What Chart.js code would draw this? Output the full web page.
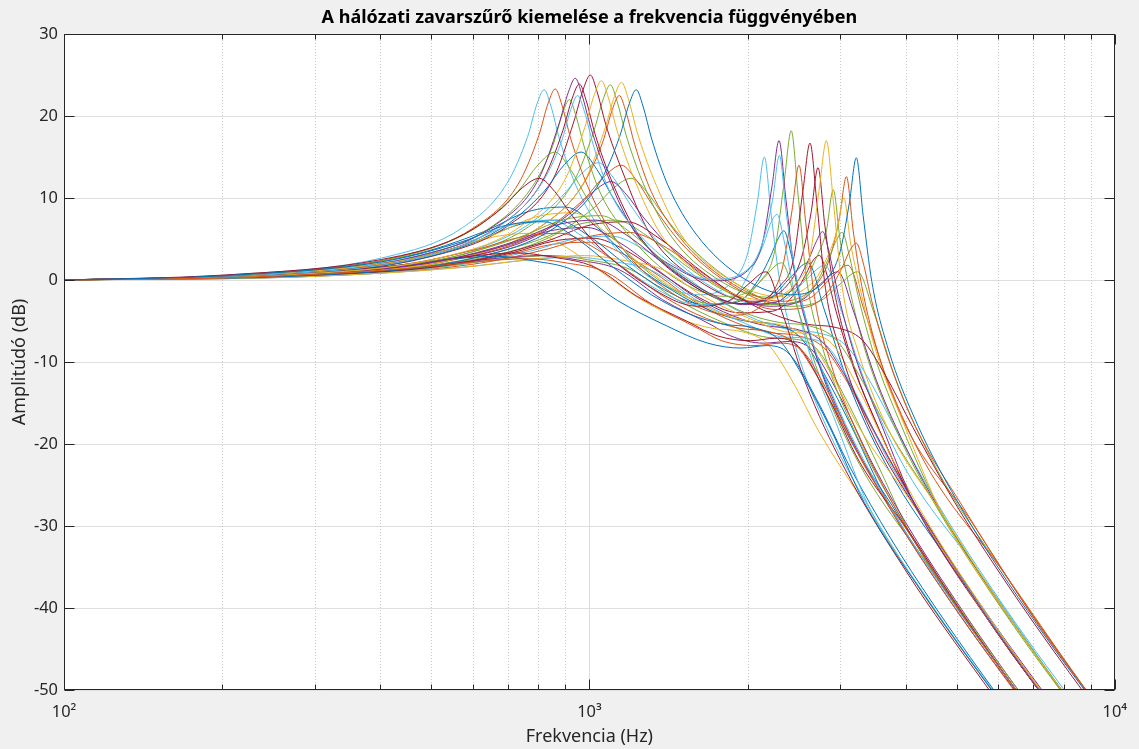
<!DOCTYPE html>
<html>
<head>
<meta charset="utf-8">
<script src="https://cdn.jsdelivr.net/npm/chart.js@4.4.1/dist/chart.umd.min.js"></script>
<style>
html,body{margin:0;padding:0;background:#f0f0f0;overflow:hidden;}
canvas{display:block;}
</style>
</head>
<body>
<canvas id="c" width="1139" height="749"></canvas>
<script>
// ---- Tick labels / axis values ----
const xTickValues = [100,200,300,400,500,600,700,800,900,1000,2000,3000,4000,5000,6000,7000,8000,9000,10000];
const xTickLabels = {100:'10\u00B2', 1000:'10\u00B3', 10000:'10\u2074'};
const yTickValues = [-50,-40,-30,-20,-10,0,10,20,30];

const titleText = 'A hálózati zavarszűrő kiemelése a frekvencia függvényében';
const xTitle = 'Frekvencia (Hz)';
const yTitle = 'Amplitúdó (dB)';

const COLORS = {blue:'#0072BD', orange:'#D95319', yellow:'#EDB120', purple:'#7E2F8E', green:'#77AC30', cyan:'#4DBEEE', crimson:'#A2142F'};

// ---- Curves: [frequency Hz, amplitude dB] ----
const cA1 = [[100,0],[205,0.6],[410,2.8],[574,6.4],[697,11.8],[763,17.5],[795,21.5],[820,23.2],[845,21.2],[877,17.2],[943,11.5],[1066,5.6],[1312,0.2],[1615,-1.8],[1895,0.2],[2002,3.3],[2088,9.5],[2153,15.0],[2218,8.0],[2304,-0.2],[2476,-8.4],[2799,-17.3],[3445,-28.3],[4737,-41.9],[6459,-53.7]];
const cA2 = [[100,0],[215,0.6],[431,2.8],[603,6.4],[732,11.7],[801,17.6],[835,21.6],[861,23.3],[887,21.3],[921,17.3],[990,11.6],[1119,5.1],[1378,-0.8],[1880,-4.3],[2205,-2.0],[2331,1.5],[2431,8.5],[2506,14.0],[2581,7.0],[2681,-2.0],[2882,-10.2],[3258,-19.1],[4010,-30.1],[5513,-43.7],[7518,-55.5]];
const cA3 = [[100,0],[229,0.6],[458,2.7],[641,6.2],[779,11.4],[852,16.4],[889,20.3],[916,22.0],[943,20.0],[980,16.0],[1053,10.4],[1191,5.4],[1466,0.1],[1817,-2.0],[2131,0.1],[2252,3.5],[2349,12.0],[2422,18.2],[2495,10.5],[2592,0.0],[2785,-8.5],[3149,-17.5],[3875,-28.5],[5328,-42.0],[7266,-54.0]];
const cA4 = [[100,0],[235,0.6],[470,2.9],[658,6.6],[799,12.2],[874,18.9],[912,22.9],[940,24.6],[968,22.6],[1006,18.6],[1081,12.9],[1222,5.8],[1504,1.0],[1722,-0.1],[2020,1.4],[2135,4.5],[2227,11.5],[2296,17.0],[2365,10.0],[2457,1.0],[2640,-7.2],[2985,-16.1],[3674,-27.1],[5051,-40.7],[6888,-52.5]];
const cA5 = [[100,0],[239,0.6],[479,2.8],[670,6.5],[813,12.0],[890,18.2],[928,22.2],[957,23.9],[986,21.9],[1024,17.9],[1101,12.2],[1244,5.4],[1531,-0.2],[1973,-2.9],[2314,-0.6],[2446,2.5],[2551,11.0],[2630,16.7],[2709,9.5],[2814,-1.0],[3025,-9.2],[3419,-18.1],[4305,-29.1],[5920,-42.7],[8070,-54.5]];
const cA6 = [[100,0],[251,0.6],[502,2.9],[703,6.7],[853,12.3],[934,19.3],[974,23.3],[1004,25.0],[1034,23.0],[1074,19.0],[1155,13.3],[1305,5.6],[1606,0.0],[2043,-2.6],[2397,-0.4],[2533,2.7],[2642,8.2],[2724,13.7],[2806,6.7],[2915,-0.8],[3133,-9.0],[3541,-17.9],[4284,-28.9],[5891,-42.5],[8033,-54.3]];
const cA7 = [[100,0],[264,0.6],[527,2.8],[738,6.5],[896,12.1],[980,18.6],[1022,22.6],[1054,24.3],[1086,22.3],[1128,18.3],[1212,12.6],[1370,5.5],[1686,0.0],[2120,-2.4],[2487,-0.2],[2628,2.9],[2741,11.3],[2826,17.0],[2911,9.8],[3024,-0.6],[3250,-8.8],[3674,-17.7],[4712,-28.7],[6478,-42.3],[8834,-54.1]];
const cA8 = [[100,0],[274,0.6],[548,2.8],[767,6.5],[932,11.9],[1019,18.1],[1063,22.1],[1096,23.8],[1129,21.8],[1173,17.8],[1260,12.1],[1425,5.5],[1754,0.1],[2184,-2.1],[2563,0.0],[2708,2.8],[2825,6.0],[2912,11.0],[2999,5.0],[3116,-0.6],[3349,-8.6],[3786,-17.5],[4659,-28.5],[6406,-42.1],[8736,-53.9]];
const cA9 = [[100,0],[288,0.6],[576,2.8],[806,6.5],[978,12.0],[1070,18.4],[1116,22.4],[1151,24.1],[1186,22.1],[1232,18.1],[1324,12.4],[1496,5.5],[1842,0.1],[2288,-2.0],[2684,0.0],[2837,2.8],[2959,6.0],[3050,10.0],[3142,4.5],[3264,-0.6],[3508,-8.6],[3965,-17.5],[4690,-28.5],[6448,-42.1],[8793,-53.9]];
const cA10 = [[100,0],[285,0.6],[570,2.7],[798,6.3],[969,11.5],[1060,16.8],[1106,20.8],[1140,22.5],[1174,20.5],[1220,16.5],[1311,10.8],[1482,5.3],[1824,0.0],[2314,-2.6],[2715,-0.4],[2869,2.7],[2992,7.6],[3085,12.6],[3178,6.0],[3301,-0.8],[3548,-9.0],[4011,-17.9],[5262,-28.9],[7235,-42.5],[9866,-54.3]];
const cA11 = [[100,0],[307,0.6],[614,2.8],[860,6.4],[1044,11.8],[1142,17.5],[1191,21.5],[1228,23.2],[1265,21.2],[1314,17.2],[1412,11.5],[1596,5.6],[1965,0.2],[2417,-1.8],[2835,0.2],[2996,3.3],[3125,9.4],[3222,14.9],[3319,7.9],[3448,-0.2],[3705,-8.4],[4189,-17.3],[5155,-28.3],[7088,-41.9],[9666,-53.7]];
const cA12 = [[100,0],[238,0.6],[475,2.7],[665,6.3],[808,11.6],[884,16.8],[922,20.8],[950,22.5],[979,20.5],[1017,16.5],[1093,10.8],[1235,5.8],[1520,1.0],[1725,0.1],[2024,1.6],[2139,4.7],[2231,9.7],[2300,15.2],[2369,8.2],[2461,1.2],[2645,-7.0],[2990,-15.9],[3680,-26.9],[5060,-40.5],[6900,-52.3]];

const cB1 = [[100,0],[201,0.6],[402,2.5],[562,5.2],[683,8.8],[747,11.3],[803,12.4],[859,10.8],[923,8.0],[1044,4.0],[1285,-0.6],[1606,-3.2],[1847,-2.5],[2008,-0.5],[2168,1.0],[2329,-4.0],[2570,-12.3],[3051,-22.8],[4015,-35.6],[5621,-49.0],[6826,-56.3]];
const cB2 = [[100,0],[215,0.6],[430,2.7],[602,6.2],[731,10.8],[800,14.1],[860,15.6],[920,13.5],[989,10.0],[1118,5.0],[1376,-0.3],[1720,-2.9],[1978,-2.1],[2150,0.3],[2322,2.1],[2494,-3.6],[2752,-12.0],[3268,-22.5],[4490,-35.4],[6285,-48.8],[7632,-56.1]];
const cB3 = [[100,0],[241,0.6],[483,2.7],[676,6.2],[820,10.8],[897,14.1],[965,15.6],[1033,13.5],[1110,10.0],[1255,5.0],[1544,-0.3],[1930,-2.9],[2220,-2.1],[2413,0.3],[2606,2.1],[2799,-3.6],[3088,-12.0],[3667,-22.5],[4970,-35.4],[6958,-48.8],[8449,-56.1]];
const cB4 = [[100,0],[260,0.6],[520,2.7],[728,5.9],[884,10.1],[967,13.0],[1040,14.3],[1113,12.4],[1196,9.2],[1352,4.6],[1664,-0.4],[2080,-2.9],[2392,-2.1],[2600,0.2],[2808,1.8],[3016,-3.7],[3328,-12.0],[3952,-22.5],[5491,-35.4],[7688,-48.8],[9335,-56.1]];
const cB5 = [[100,0],[288,0.6],[575,2.7],[805,5.8],[978,9.9],[1070,12.7],[1150,14.0],[1231,12.1],[1323,9.0],[1495,4.5],[1840,-0.4],[2300,-2.9],[2645,-2.1],[2875,0.2],[3105,1.8],[3335,-3.7],[3680,-12.0],[4370,-22.5],[6107,-35.4],[8549,-48.8],[10381,-56.1]];
const cB6 = [[100,0],[275,0.6],[550,2.5],[770,5.0],[935,8.5],[1023,10.9],[1100,12.0],[1177,10.4],[1265,7.7],[1430,3.9],[1760,-0.7],[2200,-3.2],[2530,-2.5],[2750,-0.5],[2970,1.0],[3190,-4.0],[3520,-12.3],[4180,-22.8],[5500,-35.6],[7700,-49.0],[9350,-56.3]];
const cB7 = [[100,0],[300,0.6],[600,2.5],[840,5.2],[1020,8.8],[1116,11.3],[1200,12.4],[1284,10.8],[1380,8.0],[1560,4.0],[1920,-0.6],[2400,-3.2],[2760,-2.5],[3000,-0.5],[3240,1.0],[3480,-4.0],[3840,-12.3],[4560,-22.8],[6132,-35.6],[8585,-49.0],[10424,-56.3]];

const cM1 = [[100,0],[205,0.55],[410,2.3],[574,4.7],[697,6.7],[820,7.1],[943,5.1],[1107,1.6],[1312,-1.8],[1558,-4.2],[1804,-5.4],[2050,-5.8],[2296,-7.3],[2542,-11.6],[2870,-18.0],[3334,-27.1],[4366,-38.7],[5953,-50.8],[7144,-57.5]];
const cM2 = [[100,0],[220,0.45],[440,1.85],[616,3.8],[748,5.3],[880,5.7],[1012,4.1],[1188,1.0],[1408,-2.3],[1672,-4.7],[1936,-5.9],[2200,-6.3],[2464,-7.8],[2728,-12.0],[3080,-18.4],[3696,-27.4],[4840,-39.0],[6600,-51.0],[7920,-57.7]];
const cM3 = [[100,0],[233,0.63],[465,2.65],[651,5.4],[791,7.7],[930,8.2],[1070,5.9],[1256,1.8],[1488,-1.5],[1767,-4.0],[2046,-5.1],[2325,-5.5],[2604,-7.1],[2883,-11.4],[3255,-17.9],[4082,-26.9],[5345,-38.5],[7289,-50.6],[8747,-57.3]];
const cM4 = [[100,0],[248,0.5],[495,2.1],[693,4.2],[842,6.0],[990,6.4],[1139,4.6],[1337,1.4],[1584,-2.0],[1881,-4.4],[2178,-5.6],[2475,-6.0],[2772,-7.5],[3069,-11.7],[3465,-18.1],[4158,-27.2],[5445,-38.8],[7425,-50.8],[8910,-57.5]];
const cM5 = [[100,0],[263,0.6],[525,2.55],[735,5.2],[893,7.35],[1050,7.85],[1208,5.6],[1418,1.7],[1680,-1.6],[1995,-4.1],[2310,-5.2],[2625,-5.6],[2940,-7.2],[3255,-11.5],[3675,-17.9],[4520,-27.0],[5919,-38.6],[8072,-50.7],[9686,-57.4]];
const cM6 = [[100,0],[275,0.4],[550,1.75],[770,3.5],[935,5.0],[1100,5.35],[1265,3.8],[1485,0.9],[1760,-2.4],[2090,-4.9],[2420,-6.1],[2750,-6.5],[3080,-8.0],[3410,-12.2],[3850,-18.5],[4620,-27.5],[6050,-39.1],[8250,-51.1],[9900,-57.8]];
const cM7 = [[100,0],[295,0.55],[590,2.3],[826,4.7],[1003,6.7],[1180,7.1],[1357,5.1],[1593,1.6],[1888,-1.8],[2242,-4.2],[2596,-5.4],[2950,-5.8],[3304,-7.3],[3658,-11.6],[4130,-18.0],[4956,-27.1],[6490,-38.7],[8850,-50.8],[10620,-57.5]];
const cM8 = [[100,0],[225,0.7],[450,2.9],[630,5.9],[765,8.35],[900,8.9],[1035,6.4],[1215,2.0],[1440,-1.3],[1710,-3.8],[1980,-5.0],[2250,-5.4],[2520,-7.0],[2790,-11.3],[3150,-17.8],[3678,-26.8],[4816,-38.4],[6568,-50.5],[7881,-57.2]];
const cM9 = [[100,0],[250,0.36],[500,1.5],[700,3.05],[850,4.35],[1000,4.6],[1150,3.3],[1350,0.6],[1600,-2.8],[1900,-5.2],[2200,-6.4],[2500,-6.8],[2800,-8.3],[3100,-12.5],[3500,-18.8],[4200,-27.8],[5500,-39.4],[7500,-51.4],[9000,-58.0]];
const cM10 = [[100,0],[195,0.45],[390,1.85],[546,3.8],[663,5.3],[780,5.7],[897,4.1],[1053,1.0],[1248,-2.3],[1482,-4.7],[1716,-5.9],[1950,-6.3],[2184,-7.8],[2418,-12.0],[2730,-18.4],[3351,-27.4],[4389,-39.0],[5985,-51.0],[7181,-57.7]];

const cS1 = [[100,0],[211,0.55],[422,2.3],[590,4.7],[717,6.8],[843,7.3],[969,5.35],[1138,1.9],[1349,-1.2],[1602,-3.0],[1855,-2.5],[2023,1.0],[2150,4.5],[2209,6.8],[2276,8.0],[2344,5.0],[2436,-0.5],[2613,-8.5],[2951,-17.5],[3385,-27.3],[4433,-39.2],[6045,-51.3],[7253,-58.0]];
const cS2 = [[100,0],[281,0.55],[561,2.3],[785,4.7],[954,6.8],[1122,7.3],[1290,5.35],[1515,1.9],[1795,-1.2],[2132,-3.0],[2468,-2.7],[2693,-0.5],[2861,2.8],[2940,4.6],[3029,5.8],[3119,3.2],[3243,-1.8],[3478,-9.0],[3927,-17.8],[4604,-27.5],[6029,-39.3],[8221,-51.4],[9866,-58.0]];
const cS3 = [[100,0],[298,0.45],[597,1.9],[835,3.8],[1014,5.4],[1193,5.8],[1372,4.3],[1611,1.2],[1909,-1.9],[2267,-3.6],[2625,-3.2],[2863,-1.2],[3042,1.8],[3126,3.5],[3221,4.5],[3317,2.2],[3448,-2.6],[3698,-9.4],[4176,-17.9],[5121,-27.5],[6706,-39.3],[9145,-51.4],[10973,-58.0]];
const cS4 = [[100,0],[258,0.55],[515,2.3],[721,4.7],[876,6.8],[1030,7.3],[1185,5.35],[1391,1.9],[1648,-1.2],[1957,-3.0],[2266,-2.7],[2472,-0.5],[2627,2.8],[2699,4.6],[2781,5.9],[2863,3.2],[2977,-1.8],[3193,-9.0],[3605,-17.8],[4170,-27.5],[5461,-39.3],[7447,-51.4],[8936,-58.0]];
const cS5 = [[100,0],[254,0.4],[508,1.6],[711,3.3],[863,4.8],[1015,5.1],[1167,3.7],[1370,0.8],[1624,-2.2],[1929,-4.0],[2233,-3.8],[2436,-2.0],[2588,0.8],[2659,2.3],[2741,3.0],[2822,1.0],[2933,-3.3],[3147,-9.8],[3553,-18.1],[4178,-27.6],[5471,-39.4],[7461,-51.5],[8952,-58.0]];
const cS6 = [[100,0],[217,0.55],[435,2.3],[608,4.7],[739,6.8],[869,7.3],[999,5.35],[1173,1.9],[1390,-1.2],[1651,-3.0],[1912,-2.7],[2086,-0.2],[2216,3.0],[2277,4.8],[2346,6.0],[2416,3.4],[2511,-1.6],[2694,-9.0],[3042,-17.8],[3767,-27.5],[4933,-39.3],[6727,-51.4],[8071,-58.0]];

const cL1 = [[100,0],[195,0.4],[390,1.5],[546,2.55],[663,2.9],[780,2.35],[936,1.15],[1131,-2.5],[1404,-5.6],[1680,-7.7],[1944,-8.3],[2174,-8.0],[2400,-9.0],[2700,-14.4],[3144,-23.0],[3744,-31.5],[4500,-39.4],[5616,-48.2],[6744,-55.1]];
const cL2 = [[100,0],[225,0.35],[450,1.4],[630,2.3],[765,2.6],[900,2.1],[1080,0.9],[1305,-2.8],[1620,-6.0],[1785,-7.4],[2066,-8.0],[2310,-7.7],[2550,-8.7],[2869,-14.1],[3341,-22.7],[4089,-31.2],[4915,-39.1],[6134,-47.9],[7367,-54.8]];
const cL3 = [[100,0],[250,0.4],[500,1.54],[700,2.64],[850,2.98],[1000,2.44],[1200,1.25],[1450,-2.2],[1800,-5.2],[2187,-7.0],[2446,-7.2],[2700,-8.3],[3038,-13.8],[3537,-22.5],[4086,-31.0],[4911,-39.0],[6128,-47.8],[7359,-54.7]];
const cL4 = [[100,0],[213,0.45],[425,1.7],[595,2.9],[723,3.3],[850,2.8],[1020,1.6],[1233,-2.0],[1530,-5.0],[1750,-6.8],[2025,-7.4],[2265,-7.1],[2500,-8.1],[2813,-13.6],[3275,-22.3],[4079,-30.9],[4904,-38.8],[6119,-47.7],[7348,-54.6]];
const cL5 = [[100,0],[275,0.35],[550,1.45],[770,2.45],[935,2.8],[1100,2.3],[1320,1.1],[1595,-2.4],[1980,-5.3],[2309,-6.9],[2582,-7.1],[2850,-8.2],[3206,-13.7],[3734,-22.4],[4522,-31.0],[5435,-38.9],[6782,-47.8],[8145,-54.7]];
const cL6 = [[100,0],[238,0.4],[475,1.54],[665,2.64],[808,2.98],[950,2.44],[1140,1.25],[1378,-2.4],[1710,-5.5],[1855,-6.8],[2147,-7.7],[2401,-7.5],[2650,-8.5],[2981,-13.9],[3472,-22.6],[4134,-31.1],[4969,-39.0],[6201,-47.9],[7447,-54.8]];
const cL7 = [[100,0],[288,0.4],[575,1.54],[805,2.64],[978,2.98],[1150,2.44],[1380,1.25],[1668,-2.2],[2070,-5.0],[2349,-6.3],[2627,-6.6],[2900,-7.8],[3263,-13.4],[3799,-22.2],[4524,-30.8],[5438,-38.7],[6786,-47.6],[8149,-54.6]];

// draw order and colours
const seriesList = [
  [cM1, COLORS.blue], [cB1, COLORS.crimson], [cL2, COLORS.orange], [cA7, COLORS.yellow], [cS4, COLORS.purple],
  [cM5, COLORS.green], [cA12, COLORS.cyan], [cL4, COLORS.crimson], [cA11, COLORS.blue], [cM2, COLORS.orange],
  [cM3, COLORS.yellow], [cA4, COLORS.purple], [cB2, COLORS.green], [cS1, COLORS.cyan], [cA5, COLORS.crimson],
  [cL1, COLORS.blue], [cA2, COLORS.orange], [cL7, COLORS.yellow], [cM4, COLORS.purple], [cA3, COLORS.green],
  [cL5, COLORS.cyan], [cM7, COLORS.crimson], [cB3, COLORS.blue], [cS3, COLORS.orange], [cA9, COLORS.yellow],
  [cB6, COLORS.purple], [cS2, COLORS.green], [cB4, COLORS.cyan], [cA6, COLORS.crimson], [cM8, COLORS.blue],
  [cA10, COLORS.orange], [cM10, COLORS.yellow], [cL6, COLORS.purple], [cA8, COLORS.green], [cA1, COLORS.cyan],
  [cS5, COLORS.crimson], [cS6, COLORS.blue], [cB5, COLORS.orange], [cL3, COLORS.green], [cM6, COLORS.cyan],
  [cM9, COLORS.orange], [cB7, COLORS.green]
];

const AXIS_COLOR = '#262626';
const FONT = 'Noto Sans';

const framePlugin = {
  id: 'frame',
  beforeDraw(chart) {
    const {ctx, chartArea: a} = chart;
    ctx.save();
    ctx.fillStyle = '#f0f0f0';
    ctx.fillRect(0, 0, chart.width, chart.height);
    ctx.fillStyle = '#ffffff';
    ctx.fillRect(a.left, a.top, a.right - a.left, a.bottom - a.top);
    ctx.restore();
  },
  beforeDatasetsDraw(chart) {
    const {ctx, chartArea: a, scales: {x}} = chart;
    ctx.save();
    ctx.lineWidth = 1;
    xTickValues.forEach(v => {
      if (v === 100 || v === 10000) return;
      const px = Math.round(x.getPixelForValue(v)) + 0.5;
      const major = xTickLabels[v] !== undefined;
      ctx.strokeStyle = major ? '#dcdcdc' : '#c8c8c8';
      ctx.setLineDash(major ? [] : [1, 2]);
      ctx.beginPath();
      ctx.moveTo(px, a.top);
      ctx.lineTo(px, a.bottom);
      ctx.stroke();
    });
    ctx.restore();
  },
  afterDatasetsDraw(chart) {
    const {ctx, chartArea: a, scales: {x, y}} = chart;
    ctx.save();
    ctx.strokeStyle = AXIS_COLOR;
    ctx.lineWidth = 1;
    ctx.setLineDash([]);
    const L = Math.round(a.left) + 0.5, R = Math.round(a.right) - 0.5;
    const T = Math.round(a.top) + 0.5, B = Math.round(a.bottom) - 0.5;
    ctx.beginPath();
    xTickValues.forEach(v => {
      const px = Math.round(x.getPixelForValue(v)) + 0.5;
      const len = xTickLabels[v] !== undefined ? 10 : 5;
      ctx.moveTo(px, B); ctx.lineTo(px, B - len);
      ctx.moveTo(px, T); ctx.lineTo(px, T + len);
    });
    yTickValues.forEach(v => {
      const py = Math.round(y.getPixelForValue(v)) + 0.5;
      ctx.moveTo(L, py); ctx.lineTo(L + 10, py);
      ctx.moveTo(R, py); ctx.lineTo(R - 10, py);
    });
    ctx.stroke();
    ctx.strokeRect(L, T, R - L, B - T);
    ctx.restore();
  },
  afterDraw(chart) {
    const {ctx, chartArea: a} = chart;
    ctx.save();
    ctx.fillStyle = '#000000';
    ctx.font = 'bold 18px "' + FONT + '"';
    ctx.textAlign = 'center';
    ctx.textBaseline = 'middle';
    ctx.fillText(titleText, (a.left + a.right) / 2, 17.8);
    ctx.restore();
  }
};

new Chart(document.getElementById('c').getContext('2d'), {
  type: 'line',
  data: {
    datasets: seriesList.map(([pts, col]) => ({
      data: pts.map(([f, v]) => ({x: f, y: v})),
      borderColor: col,
      borderWidth: 1,
      pointRadius: 0,
      fill: false,
      cubicInterpolationMode: 'monotone'
    }))
  },
  options: {
    responsive: false,
    animation: false,
    devicePixelRatio: 1,
    layout: {padding: {left: 0, right: 23, top: 34, bottom: 0}},
    plugins: {
      legend: {display: false},
      tooltip: {enabled: false},
      title: {display: false}
    },
    scales: {
      x: {
        type: 'logarithmic', min: 100, max: 10000,
        afterBuildTicks: s => { s.ticks = xTickValues.map(v => ({value: v})); },
        afterFit: s => { s.height = 59; },
        grid: {display: false, drawTicks: false},
        border: {display: false},
        ticks: {
          autoSkip: false, maxRotation: 0, padding: 12, color: AXIS_COLOR,
          font: {family: FONT, size: 16.4},
          callback: v => xTickLabels[v] || ''
        },
        title: {display: true, text: xTitle, color: AXIS_COLOR, font: {family: FONT, size: 18}, padding: {top: 0, bottom: 1}}
      },
      y: {
        type: 'linear', min: -50, max: 30,
        afterBuildTicks: s => { s.ticks = yTickValues.map(v => ({value: v})); },
        afterFit: s => { s.width = 64; },
        grid: {color: '#dfdfdf', drawTicks: false},
        border: {display: false},
        ticks: {padding: 6, color: AXIS_COLOR, font: {family: FONT, size: 16.4}},
        title: {display: true, text: yTitle, color: AXIS_COLOR, font: {family: FONT, size: 18}, padding: {top: 9, bottom: 0}}
      }
    }
  },
  plugins: [framePlugin]
});
</script>
</body>
</html>
